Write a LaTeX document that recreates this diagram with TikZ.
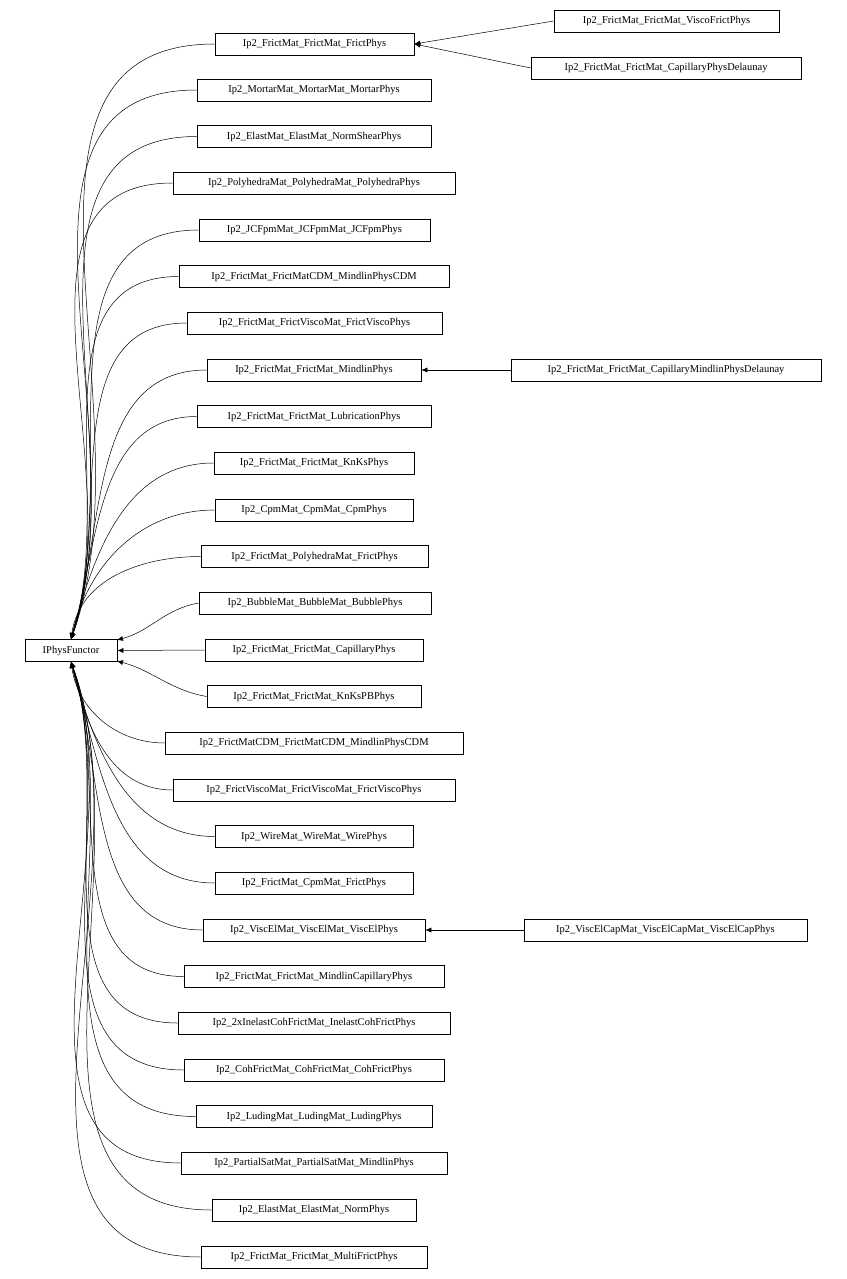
\documentclass[tikz,border=0pt]{standalone}
\usepackage{fontspec}
\setmainfont{Liberation Serif}
\usetikzlibrary{arrows.meta}
\begin{document}
\begin{tikzpicture}[x=1pt,y=-1pt,
  box/.style={draw,line width=0.6pt,minimum height=22pt,inner sep=0pt,font=\fontsize{10.5}{12}\selectfont},
  arr/.style={line width=0.5pt,-{Latex[length=6pt,width=5pt]}}]
\useasboundingbox (0,0) rectangle (846,1279);
\node[box,minimum width=92pt] (ip) at (71,650.5) {IPhysFunctor};
\foreach \n/\l/\r/\y/\t in {
 a/215/414/44/Ip2\_FrictMat\_FrictMat\_FrictPhys,
 b/197/431/90/Ip2\_MortarMat\_MortarMat\_MortarPhys,
 c/197/431/136.5/Ip2\_ElastMat\_ElastMat\_NormShearPhys,
 d/173/455/183/Ip2\_PolyhedraMat\_PolyhedraMat\_PolyhedraPhys,
 e/199/430/230/Ip2\_JCFpmMat\_JCFpmMat\_JCFpmPhys,
 f/179/449/276.5/Ip2\_FrictMat\_FrictMatCDM\_MindlinPhysCDM,
 g/187/442/323/Ip2\_FrictMat\_FrictViscoMat\_FrictViscoPhys,
 h/207/421/370/Ip2\_FrictMat\_FrictMat\_MindlinPhys,
 i/197/431/416.5/Ip2\_FrictMat\_FrictMat\_LubricationPhys,
 j/214/414/463/Ip2\_FrictMat\_FrictMat\_KnKsPhys,
 k/215/413/510/Ip2\_CpmMat\_CpmMat\_CpmPhys,
 l/201/428/556.5/Ip2\_FrictMat\_PolyhedraMat\_FrictPhys,
 m/199/431/603/Ip2\_BubbleMat\_BubbleMat\_BubblePhys,
 n/205/423/650/Ip2\_FrictMat\_FrictMat\_CapillaryPhys,
 o/207/421/696.5/Ip2\_FrictMat\_FrictMat\_KnKsPBPhys,
 p/165/463/743/Ip2\_FrictMatCDM\_FrictMatCDM\_MindlinPhysCDM,
 q/173/455/790/Ip2\_FrictViscoMat\_FrictViscoMat\_FrictViscoPhys,
 r/215/413/836.5/Ip2\_WireMat\_WireMat\_WirePhys,
 s/215/413/883/Ip2\_FrictMat\_CpmMat\_FrictPhys,
 t/203/425/930/Ip2\_ViscElMat\_ViscElMat\_ViscElPhys,
 u/184/444/976.5/Ip2\_FrictMat\_FrictMat\_MindlinCapillaryPhys,
 v/178/450/1023/Ip2\_2xInelastCohFrictMat\_InelastCohFrictPhys,
 w/184/444/1070/Ip2\_CohFrictMat\_CohFrictMat\_CohFrictPhys,
 x/196/432/1116.5/Ip2\_LudingMat\_LudingMat\_LudingPhys,
 y/181/447/1163/Ip2\_PartialSatMat\_PartialSatMat\_MindlinPhys,
 z/212/416/1210/Ip2\_ElastMat\_ElastMat\_NormPhys,
 zz/201/427/1257/Ip2\_FrictMat\_FrictMat\_MultiFrictPhys,
 ra/554/779/21/Ip2\_FrictMat\_FrictMat\_ViscoFrictPhys,
 rb/531/801/68/Ip2\_FrictMat\_FrictMat\_CapillaryPhysDelaunay,
 rc/511/821/370/Ip2\_FrictMat\_FrictMat\_CapillaryMindlinPhysDelaunay,
 rd/524/807/930/Ip2\_ViscElCapMat\_ViscElCapMat\_ViscElCapPhys}
 {\pgfmathsetmacro\w{\r-\l}\pgfmathsetmacro\cx{(\r+\l)/2}
  \node[box,minimum width=\w pt] (\n) at (\cx,\y) {\t};}
% top edges
\foreach \n/\e in {a/70,b/71,c/71,d/71,e/72,f/72,g/72,h/73,i/74,j/75,k/77,l/82}
  \draw[arr] (\n.west) to[out=180,in=\e] (ip.north);
\draw[arr] (m.west) to[out=190,in=15] (117,640);
\draw[arr] (n.west) -- (ip.east);
\draw[arr] (o.west) to[out=170,in=-15] (117,661);
\foreach \n/\e in {p/-82,q/-77,r/-75,s/-74,t/-73,u/-72,v/-72,w/-72,x/-71,y/-71,z/-70,zz/-70}
  \draw[arr] (\n.west) to[out=180,in=\e] (ip.south);
\draw[arr] (ra.west) -- (a.east);
\draw[arr] (rb.west) -- (a.east);
\draw[arr] (rc.west) -- (h.east);
\draw[arr] (rd.west) -- (t.east);
\end{tikzpicture}
\end{document}
